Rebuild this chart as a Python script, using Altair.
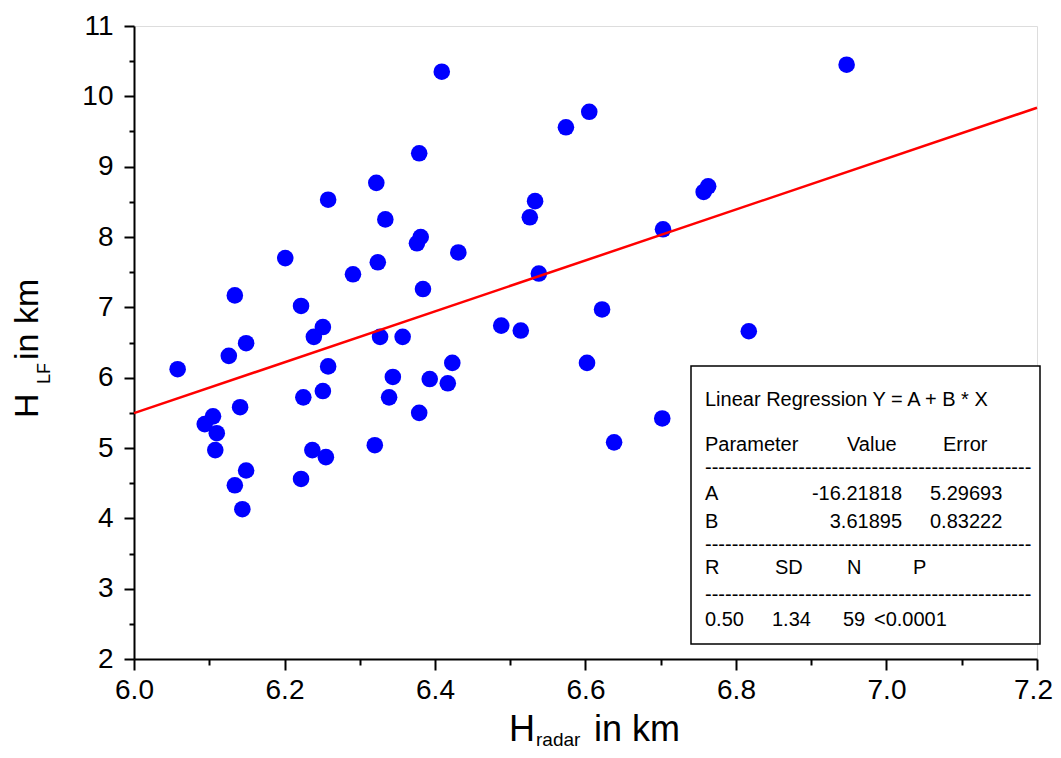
import altair as alt
import pandas as pd

# Data
h_radar = [6.058, 6.134, 6.126, 6.149, 6.201, 6.222, 6.258, 6.251, 6.239, 6.258,
           6.225, 6.251, 6.141, 6.105, 6.094, 6.110, 6.108, 6.149, 6.134, 6.144,
           6.237, 6.255, 6.222, 6.320, 6.327, 6.357, 6.423, 6.393, 6.417, 6.344,
           6.339, 6.379, 6.384, 6.324, 6.291, 6.409, 6.379, 6.322, 6.334, 6.381,
           6.376, 6.431, 6.605, 6.574, 6.533, 6.526, 6.763, 6.757, 6.947, 6.703,
           6.538, 6.622, 6.488, 6.514, 6.817, 6.602, 6.702, 6.638]
h_lf = [6.12, 7.17, 6.31, 6.49, 7.70, 7.02, 8.53, 6.72, 6.58, 6.16,
        5.72, 5.81, 5.58, 5.45, 5.34, 5.21, 4.97, 4.68, 4.47, 4.13,
        4.97, 4.87, 4.56, 5.04, 6.58, 6.58, 6.21, 5.98, 5.92, 6.01,
        5.72, 5.50, 7.26, 7.64, 7.47, 10.35, 9.19, 8.77, 8.25, 8.00,
        7.91, 7.78, 9.78, 9.56, 8.51, 8.28, 8.72, 8.64, 10.45, 8.11,
        7.48, 6.97, 6.74, 6.67, 6.66, 6.21, 5.42, 5.08]

coef_a = -16.21818
coef_b = 3.61895
line_x = [6.0, 7.2]

x_major = [6.0, 6.2, 6.4, 6.6, 6.8, 7.0, 7.2]
x_minor = [6.1, 6.3, 6.5, 6.7, 6.9, 7.1]
y_major = [2, 3, 4, 5, 6, 7, 8, 9, 10, 11]
y_minor = [2.5, 3.5, 4.5, 5.5, 6.5, 7.5, 8.5, 9.5, 10.5]

stats_rows = [
    # (text, px, py, align) page pixel positions of the regression table
    ("Linear Regression Y = A + B * X", 705, 406, "left"),
    ("Parameter", 705, 451, "left"),
    ("Value", 847, 451, "left"),
    ("Error", 943, 451, "left"),
    ("-" * 49, 705, 474, "left"),
    ("A", 705, 500, "left"),
    ("-16.21818", 902, 500, "right"),
    ("5.29693", 930, 500, "left"),
    ("B", 705, 528, "left"),
    ("3.61895", 902, 528, "right"),
    ("0.83222", 930, 528, "left"),
    ("-" * 49, 705, 551, "left"),
    ("R", 705, 574, "left"),
    ("SD", 775, 574, "left"),
    ("N", 847, 574, "left"),
    ("P", 913, 574, "left"),
    ("-" * 49, 705, 601, "left"),
    ("0.50", 705, 626, "left"),
    ("1.34", 772, 626, "left"),
    ("59", 843, 626, "left"),
    ("<0.0001", 874, 626, "left"),
]

OX, OY = 134, 26  # plot origin on the page
W, H = 903, 633
FONT = "Liberation Sans"

df = pd.DataFrame({"x": h_radar, "y": h_lf})
xs = alt.Scale(domain=[6.0, 7.2], nice=False, zero=False)
ys = alt.Scale(domain=[2, 11], nice=False, zero=False)

ax_x_major = alt.Axis(values=x_major, format=".1f", orient="bottom", title=None, grid=False,
                      tickSize=11, tickWidth=2, domainWidth=2, domainColor="black",
                      tickColor="black", labelFontSize=28, labelFont=FONT,
                      labelColor="black", labelPadding=6, labelFlush=False,
                      labelOffset={"condition": {"test": "datum.value > 7.1", "value": -4}, "value": 0})
ax_x_minor = alt.Axis(values=x_minor, orient="bottom", title=None, grid=False, labels=False,
                      domain=False, tickSize=6, tickWidth=2, tickColor="black")
ax_y_major = alt.Axis(values=y_major, format="d", orient="left", title=None, grid=False,
                      tickSize=10, tickWidth=2, domainWidth=2, domainColor="black",
                      tickColor="black", labelFontSize=28, labelFont=FONT,
                      labelColor="black", labelPadding=11, labelFlush=False)
ax_y_minor = alt.Axis(values=y_minor, orient="left", title=None, grid=False, labels=False,
                      domain=False, tickSize=5, tickWidth=2, tickColor="black")

points = alt.Chart(df).mark_circle(size=275, color="#0000ff", opacity=1).encode(
    x=alt.X("x:Q", scale=xs, axis=ax_x_major),
    y=alt.Y("y:Q", scale=ys, axis=ax_y_major),
)

line = alt.Chart(pd.DataFrame({"x": line_x})).transform_calculate(
    y=f"{coef_a} + {coef_b} * datum.x"
).mark_line(color="#ff0000", strokeWidth=2.5).encode(
    x=alt.X("x:Q", scale=xs, axis=ax_x_minor),
    y=alt.Y("y:Q", scale=ys, axis=ax_y_minor),
)

one = pd.DataFrame({"a": [0]})
box = alt.Chart(one).mark_rect(fill="white", stroke="black", strokeWidth=1.5).encode(
    x=alt.value(691 - OX), x2=alt.value(1040 - OX),
    y=alt.value(366 - OY), y2=alt.value(644 - OY),
)

layers = [points, line, box]
for text, px, py, align in stats_rows:
    layers.append(
        alt.Chart(pd.DataFrame({"t": [text]})).mark_text(
            align=align, baseline="alphabetic", fontSize=20, font=FONT, color="black"
        ).encode(x=alt.value(px - OX), y=alt.value(py - OY), text="t:N")
    )

# axis titles with subscripts
def label(text, px, py, size, angle=0):
    return alt.Chart(pd.DataFrame({"t": [text]})).mark_text(
        align="left", baseline="alphabetic", fontSize=size, font=FONT, color="black", angle=angle
    ).encode(x=alt.value(px - OX), y=alt.value(py - OY), text="t:N")

layers += [
    label("H", 509, 741, 36),
    label("radar", 536, 746, 19),
    label("in km", 594, 741, 36),
    label("H", 38, 418, 34, angle=270),
    label("LF", 50, 384, 18, angle=270),
    label("in km", 38, 360, 34, angle=270),
]

chart = alt.layer(*layers).resolve_axis(x="independent", y="independent").properties(
    width=W, height=H,
    autosize=alt.AutoSizeParams(type="none"),
    padding={"left": OX - 8, "top": OY - 8, "right": 16, "bottom": 90},
).configure_view(strokeWidth=0).configure(font=FONT)

chart.save("out.html", embed_options={"renderer": "svg", "actions": False})
